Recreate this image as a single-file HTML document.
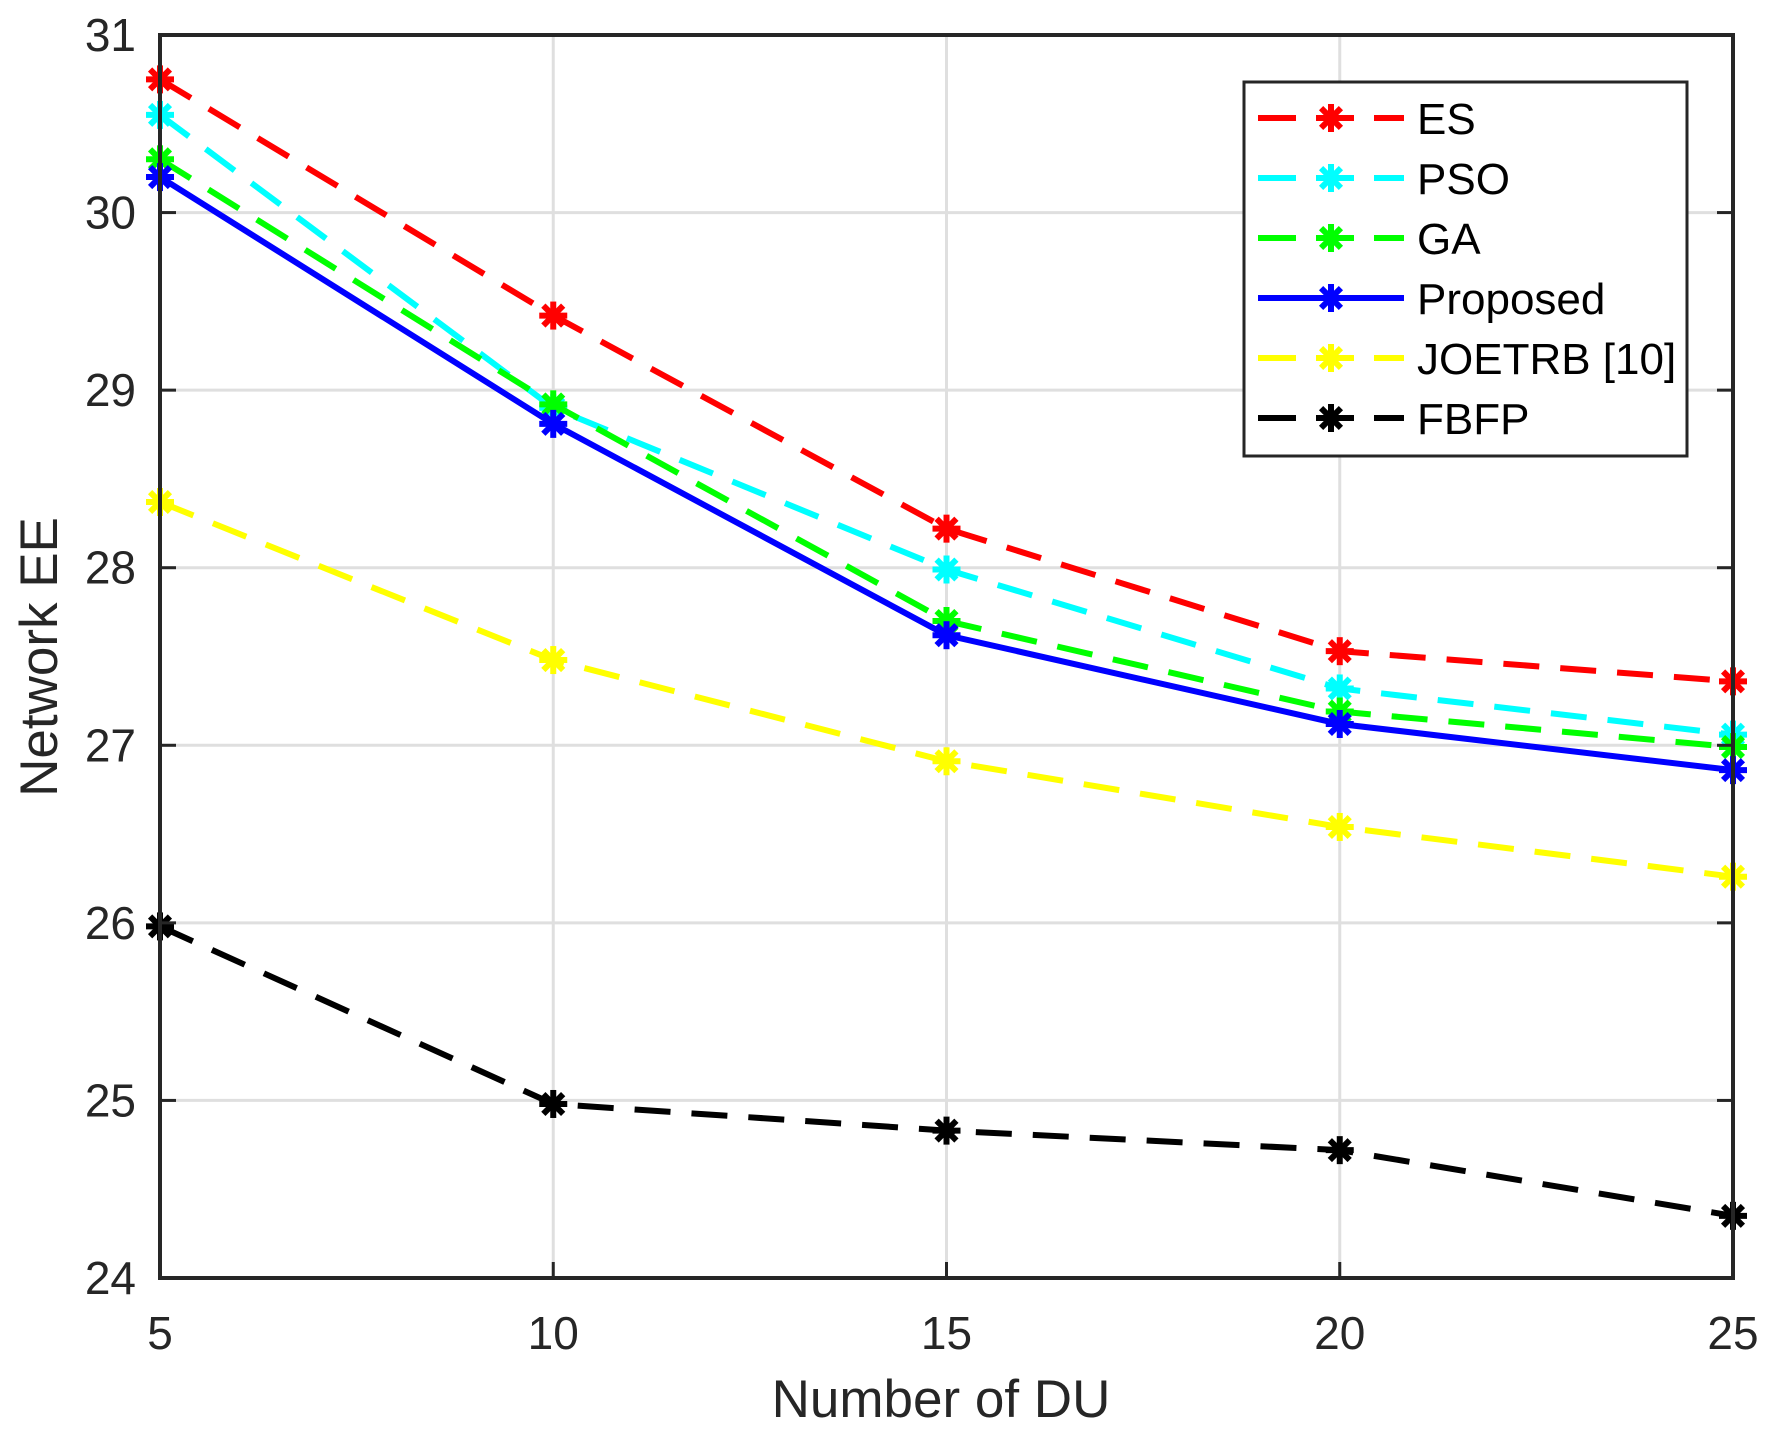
<!DOCTYPE html>
<html><head><meta charset="utf-8"><style>
html,body{margin:0;padding:0;background:#fff;}
svg{display:block;font-family:"Liberation Sans",Arial,sans-serif;}
</style></head><body>
<svg id="chart" width="1779" height="1434" viewBox="0 0 1779 1434" xmlns="http://www.w3.org/2000/svg">
<rect width="1779" height="1434" fill="#fff"/>
<g id="grid"></g>
<g id="series"></g>
<g id="axes"></g>
<text x="941" y="1417" font-size="53" text-anchor="middle" fill="#262626">Number of DU</text>
<text transform="translate(57,657) rotate(-90)" font-size="53" text-anchor="middle" fill="#262626">Network EE</text>
<g id="legend"></g>
</svg>
<script>
const categories = [5, 10, 15, 20, 25];
const xTicks = [5, 10, 15, 20, 25];
const yTicks = [24, 25, 26, 27, 28, 29, 30, 31];
const seriesNames = ["ES", "PSO", "GA", "Proposed", "JOETRB [10]", "FBFP"];
const esValues = [30.75, 29.42, 28.22, 27.53, 27.36];
const psoValues = [30.55, 28.90, 27.99, 27.32, 27.06];
const gaValues = [30.30, 28.92, 27.70, 27.19, 26.99];
const proposedValues = [30.20, 28.81, 27.62, 27.12, 26.86];
const joetrbValues = [28.37, 27.48, 26.91, 26.54, 26.26];
const fbfpValues = [25.98, 24.98, 24.83, 24.72, 24.35];

const NS = "http://www.w3.org/2000/svg";
const L = 160, R = 1733, T = 35, B = 1278;
const xMin = 5, xMax = 25, yMin = 24, yMax = 31;
function xs(v){ return L + (v - xMin) / (xMax - xMin) * (R - L); }
function ys(v){ return B - (v - yMin) / (yMax - yMin) * (B - T); }
function mk(tag, attrs, parent){ const e = document.createElementNS(NS, tag); for (const k in attrs) e.setAttribute(k, attrs[k]); parent.appendChild(e); return e; }

const grid = document.getElementById('grid');
const axes = document.getElementById('axes');
xTicks.forEach(t => {
  const g = mk('line', {x1: xs(t), x2: xs(t), y1: T, y2: B, stroke: '#dfdfdf', 'stroke-width': 3}, grid);
  
  
  const tk = mk('line', {x1: xs(t), x2: xs(t), y1: B, y2: B - 16, stroke: '#262626', 'stroke-width': 3}, axes);
  
  
  const tx = mk('text', {x: xs(t), y: 1349, 'font-size': 46, 'text-anchor': 'middle', fill: '#262626'}, axes);
  tx.textContent = t;
  
  
});
yTicks.forEach(t => {
  const g = mk('line', {x1: L, x2: R, y1: ys(t), y2: ys(t), stroke: '#dfdfdf', 'stroke-width': 3}, grid);
  
  
  const tk = mk('line', {x1: L, x2: L + 16, y1: ys(t), y2: ys(t), stroke: '#262626', 'stroke-width': 3}, axes);
  
  
  const tk2 = mk('line', {x1: R, x2: R - 16, y1: ys(t), y2: ys(t), stroke: '#262626', 'stroke-width': 3}, axes);
  
  
  const tx = mk('text', {x: 136, y: ys(t) + 16, 'font-size': 46, 'text-anchor': 'end', fill: '#262626'}, axes);
  tx.textContent = t;
  
  
});
const frame = mk('rect', {x: L, y: T, width: R - L, height: B - T, fill: 'none', stroke: '#262626', 'stroke-width': 4}, axes);



const allValues = [esValues, psoValues, gaValues, proposedValues, joetrbValues, fbfpValues];
const colors = ['#ff0000', '#00ffff', '#00ff00', '#0000ff', '#ffff00', '#000000'];
const dashed = [true, true, true, false, true, true];
const keys = ['es', 'pso', 'ga', 'proposed', 'joetrb', 'fbfp'];

function star(parent, cx, cy, color, r){
  const g = mk('g', {stroke: color, 'stroke-width': 6, 'stroke-linecap': 'butt'}, parent);
  for (let a = 0; a < 180; a += 45) {
    const rad = a * Math.PI / 180;
    mk('line', {x1: cx - r * Math.cos(rad), y1: cy - r * Math.sin(rad), x2: cx + r * Math.cos(rad), y2: cy + r * Math.sin(rad)}, g);
  }
  return g;
}

const sg = document.getElementById('series');
allValues.forEach((vals, i) => {
  const pts = vals.map((v, j) => xs(categories[j]) + ',' + ys(v)).join(' ');
  const pl = mk('polyline', {points: pts, fill: 'none', stroke: colors[i], 'stroke-width': 6, 'stroke-dasharray': dashed[i] ? '36 21' : 'none'}, sg);
  
  
  vals.forEach((v, j) => {
    const m = star(sg, xs(categories[j]), ys(v), colors[i], 14);
    
    
  });
});

const lg = document.getElementById('legend');
const box = mk('rect', {x: 1244, y: 82, width: 443, height: 374, fill: '#fff', stroke: '#262626', 'stroke-width': 3}, lg);


seriesNames.forEach((name, i) => {
  const y = 118 + i * 60;
  const g = mk('g', {}, lg);
  
  
  if (dashed[i]) {
    mk('line', {x1: 1258, x2: 1296, y1: y, y2: y, stroke: colors[i], 'stroke-width': 6}, g);
    mk('line', {x1: 1374, x2: 1404, y1: y, y2: y, stroke: colors[i], 'stroke-width': 6}, g);
    mk('line', {x1: 1316, x2: 1354, y1: y, y2: y, stroke: colors[i], 'stroke-width': 6}, g);
  } else {
    mk('line', {x1: 1258, x2: 1404, y1: y, y2: y, stroke: colors[i], 'stroke-width': 6}, g);
  }
  star(g, 1331, y, colors[i], 14);
  const t = mk('text', {x: 1417, y: y + 16, 'font-size': 44, fill: '#000'}, g);
  t.textContent = name;
});
</script>
</body></html>
